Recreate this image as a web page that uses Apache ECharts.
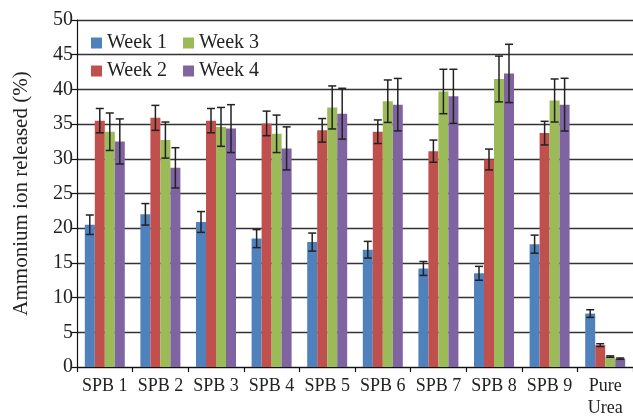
<!DOCTYPE html>
<html>
<head>
<meta charset="utf-8">
<script src="https://cdn.jsdelivr.net/npm/echarts@6/dist/echarts.min.js"></script>
<style>
  html, body { margin: 0; padding: 0; background: #fff; }
  #chart { width: 633px; height: 419px; }
</style>
</head>
<body>
<div id="chart"></div>
<script>
// Sample labels along the x axis
var categories = ['SPB 1', 'SPB 2', 'SPB 3', 'SPB 4', 'SPB 5', 'SPB 6', 'SPB 7', 'SPB 8', 'SPB 9', 'Pure\nUrea'];

// Ammonium ion released (%) per week
var week1 = [20.5, 22.0, 20.9, 18.5, 18.0, 16.9, 14.2, 13.5, 17.7, 7.7];
var week2 = [35.5, 35.9, 35.5, 35.1, 34.1, 33.9, 31.1, 29.9, 33.7, 3.15];
var week3 = [33.9, 32.7, 34.6, 33.6, 37.4, 38.3, 39.7, 41.5, 38.4, 1.5];
var week4 = [32.5, 28.7, 34.35, 31.5, 36.5, 37.8, 39.0, 42.3, 37.8, 1.2];

// Standard deviations (error bars)
var err1 = [1.4, 1.55, 1.5, 1.3, 1.3, 1.2, 1.0, 1.0, 1.3, 0.55];
var err2 = [1.75, 1.8, 1.75, 1.77, 1.7, 1.7, 1.6, 1.5, 1.7, 0.2];
var err3 = [2.7, 2.6, 2.8, 2.7, 3.1, 3.06, 3.2, 3.3, 3.1, 0.1];
var err4 = [3.25, 2.9, 3.45, 3.1, 3.66, 3.78, 3.9, 4.2, 3.8, 0.1];

var yTicks = [0, 5, 10, 15, 20, 25, 30, 35, 40, 45, 50];

var seriesNames = ['Week 1', 'Week 2', 'Week 3', 'Week 4'];
var seriesValues = [week1, week2, week3, week4];
var seriesErrors = [err1, err2, err3, err4];
var colors = ['#4F81BD', '#C0504D', '#9BBB59', '#8064A2'];

var FONT = '"Liberation Serif", "DejaVu Serif", serif';
var BAR_W = 10;

var chart = echarts.init(document.getElementById('chart'), null, { renderer: 'canvas' });

var series = [];
seriesNames.forEach(function (name, i) {
  series.push({
    name: name,
    type: 'bar',
    data: seriesValues[i],
    barWidth: BAR_W,
    barGap: '0%',
    itemStyle: { color: colors[i] },
    z: 2
  });
});

// Error bars: vertical whisker with caps, centred on each bar
seriesNames.forEach(function (name, i) {
  var data = seriesValues[i].map(function (v, k) {
    return [k, v, seriesErrors[i][k]];
  });
  series.push({
    type: 'custom',
    name: name + ' error',
    data: data,
    z: 5,
    silent: true,
    encode: { x: 0, y: 1 },
    renderItem: function (params, api) {
      var idx = api.value(0);
      var val = api.value(1);
      var e = api.value(2);
      var center = api.coord([idx, val]);
      var x = center[0] + (i - 1.5) * BAR_W;
      var hi = api.coord([idx, val + e])[1];
      var lo = api.coord([idx, val - e])[1];
      var cap = 4;
      var style = { stroke: '#222', lineWidth: 1.5, fill: null };
      return {
        type: 'group',
        children: [
          { type: 'line', shape: { x1: x, y1: hi, x2: x, y2: lo }, style: style },
          { type: 'line', shape: { x1: x - cap, y1: hi, x2: x + cap, y2: hi }, style: style },
          { type: 'line', shape: { x1: x - cap, y1: lo, x2: x + cap, y2: lo }, style: style }
        ]
      };
    }
  });
});

var legendCommon = {
  orient: 'horizontal',
  itemWidth: 11,
  itemHeight: 11,
  itemGap: 16,
  padding: 0,
  icon: 'rect',
  textStyle: { fontFamily: FONT, fontSize: 20, color: '#222' }
};

chart.setOption({
  animation: false,
  backgroundColor: '#fff',
  textStyle: { fontFamily: FONT },
  legend: [
    Object.assign({}, legendCommon, { left: 91, top: 33, data: ['Week 1', 'Week 3'] }),
    Object.assign({}, legendCommon, { left: 91, top: 61, data: ['Week 2', 'Week 4'] })
  ],
  grid: { left: 77, top: 20, bottom: 50, width: 559 },
  xAxis: {
    type: 'category',
    data: categories,
    boundaryGap: true,
    axisLine: { lineStyle: { color: '#111', width: 1.2 } },
    axisTick: { show: true, length: 5, lineStyle: { color: '#111', width: 1.2 } },
    axisLabel: {
      fontFamily: FONT, fontSize: 18, color: '#222', margin: 8, lineHeight: 22, interval: 0
    }
  },
  yAxis: {
    type: 'value',
    min: yTicks[0],
    max: yTicks[yTicks.length - 1],
    interval: 5,
    name: 'Ammonium ion released (%)',
    nameLocation: 'middle',
    nameGap: 45,
    nameTextStyle: { fontFamily: FONT, fontSize: 21, color: '#222' },
    axisLine: { show: true, lineStyle: { color: '#111', width: 1.2 } },
    axisTick: { show: true, length: 6, lineStyle: { color: '#111', width: 1.2 } },
    axisLabel: { fontFamily: FONT, fontSize: 20, color: '#222', margin: 4 },
    splitLine: { show: true, lineStyle: { color: '#333', width: 1.3 } }
  },
  series: series
});
</script>
</body>
</html>
